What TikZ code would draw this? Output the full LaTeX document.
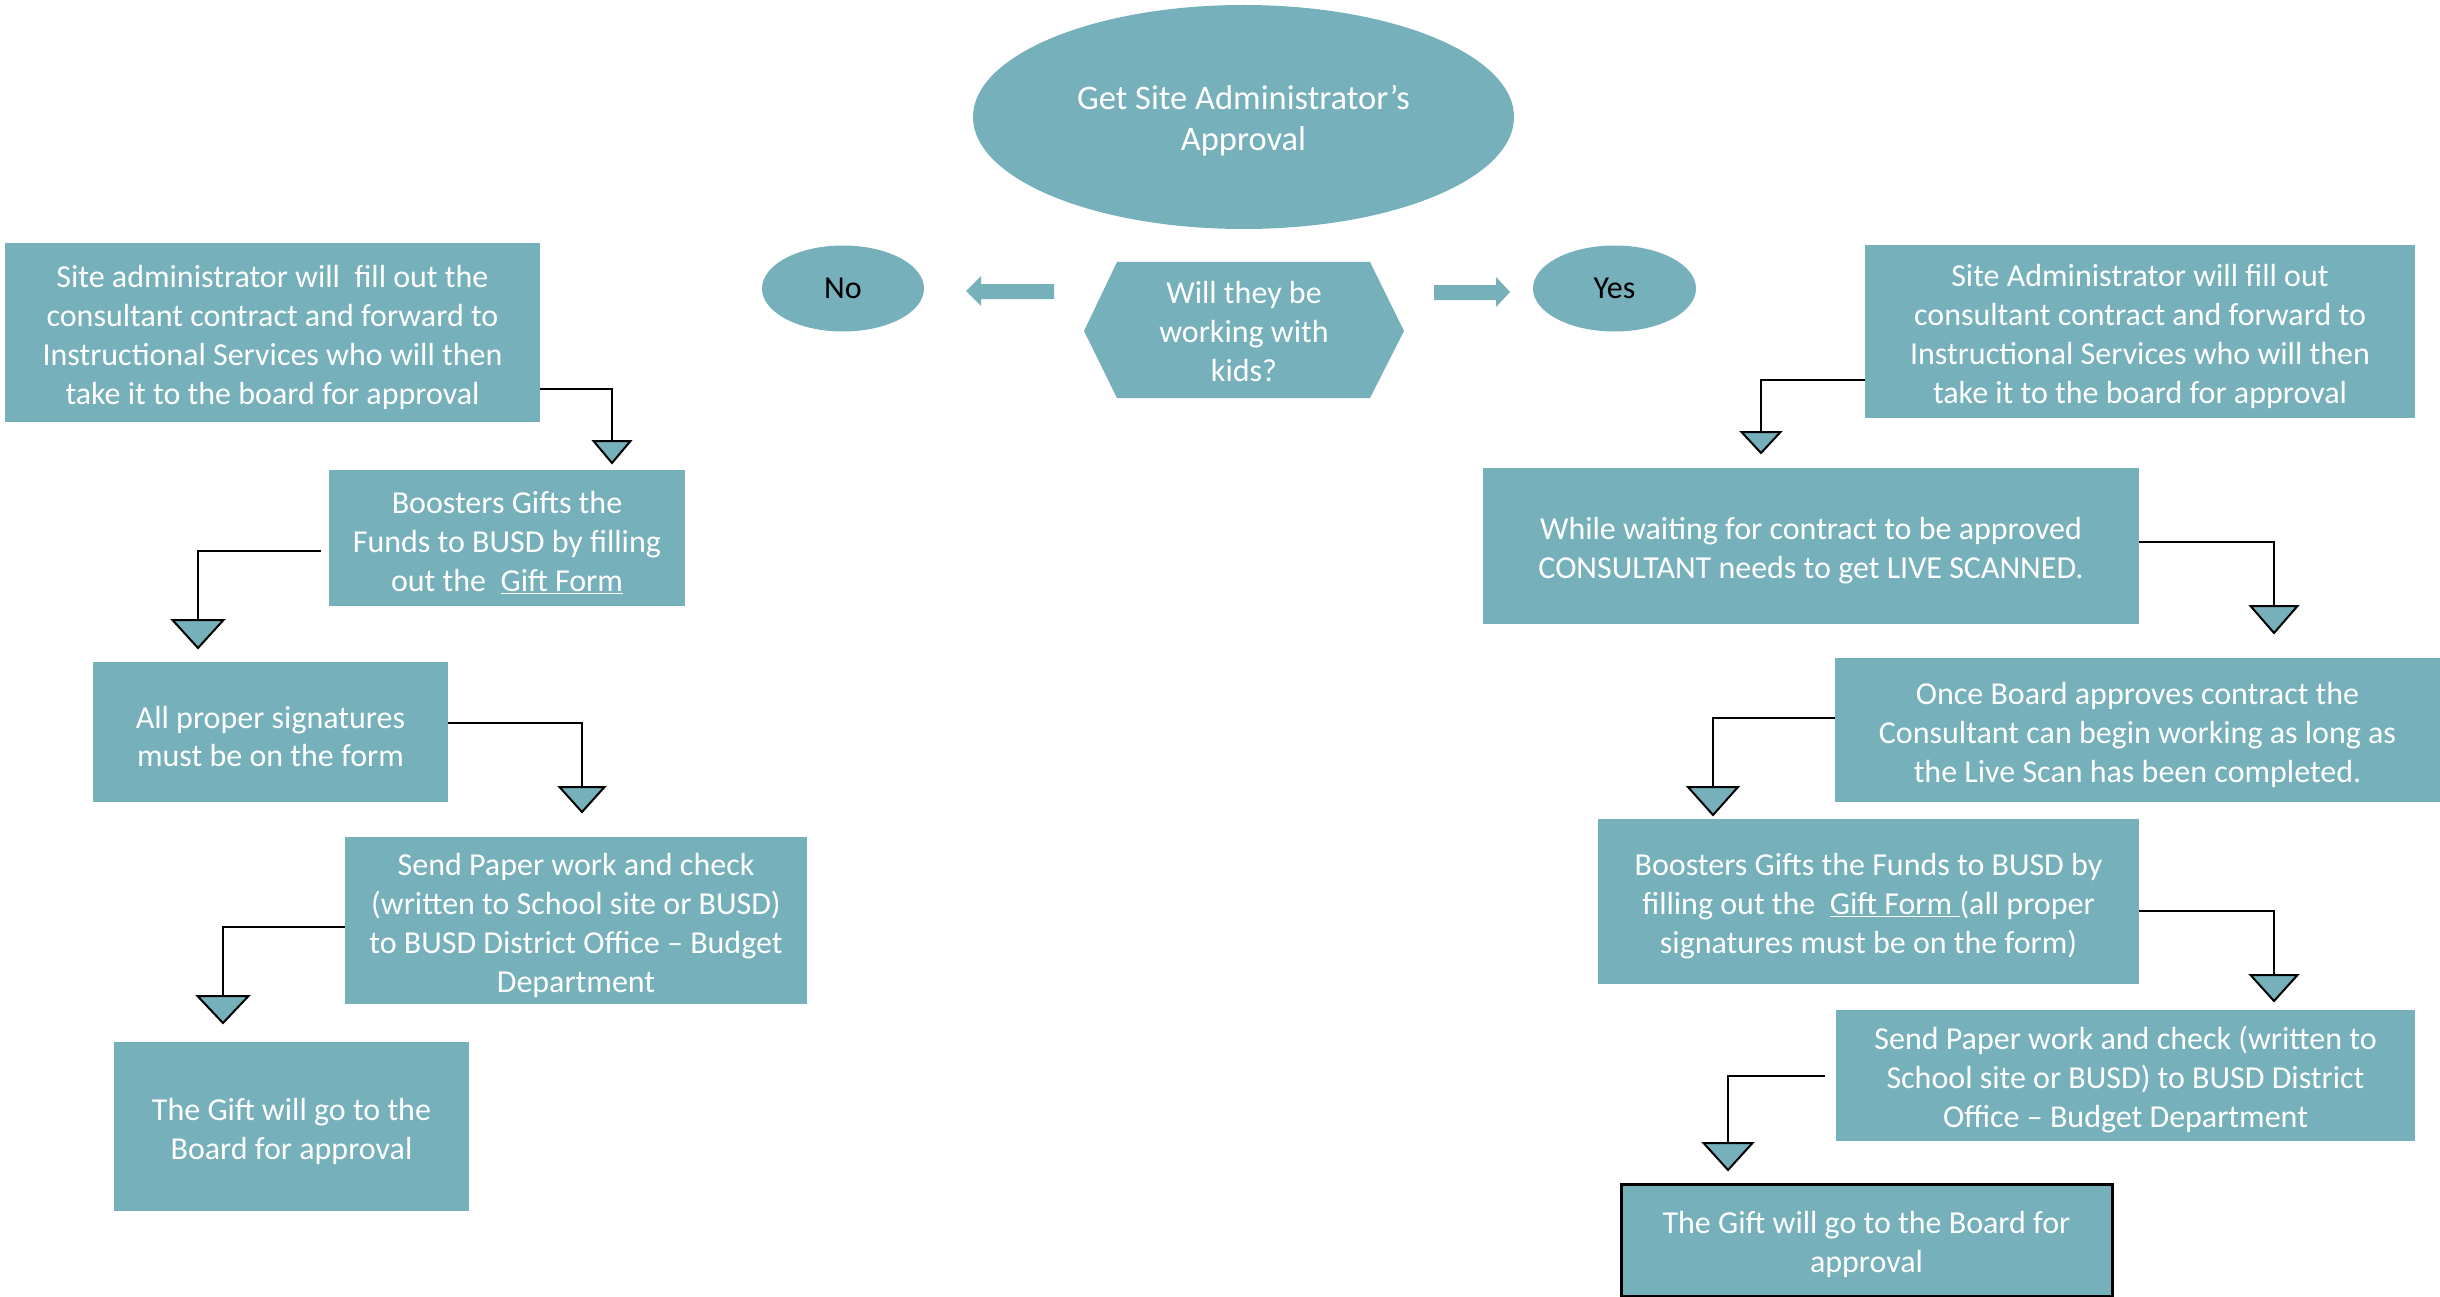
\documentclass[tikz,border=0pt]{standalone}
\usepackage{fontspec}
\setmainfont{Carlito}
\usetikzlibrary{shapes.geometric}
\definecolor{tealbox}{RGB}{117,176,187}
% downward pointing triangle marker: name, x, top y, width, height
\newcommand\downtri[5]{%
  \coordinate (#1) at (#2,#3);
  \filldraw[tri] (#2-#4/2,#3) -- (#2+#4/2,#3) -- (#2,#3+#5) -- cycle;}
\begin{document}
\begin{tikzpicture}[x=1pt,y=-1pt,
  every node/.style={inner sep=0pt, align=center, font=\fontsize{32}{39}\selectfont},
  box/.style={rectangle, fill=tealbox, label={[text=white, yshift=-4.5pt]center:{#1}}},
  oval/.style={ellipse, fill=tealbox},
  conn/.style={draw=black, line width=2.6pt},
  tri/.style={fill=tealbox, draw=black, line width=2pt, line join=miter},
  blockarrow/.style={fill=tealbox}]
\useasboundingbox (0,0) rectangle (2440,1297);

% top of the chart
\node[oval, minimum width=541pt, minimum height=224pt,
  label={[text=white, yshift=-3.5pt, font=\fontsize{34.5}{41}\selectfont]center:{Get Site Administrator’s\\Approval}}]
  (approval) at (1243.5,117) {};
\fill[tealbox] (1084,331) -- (1117,262) -- (1370,262) -- (1404,331) -- (1370,398) -- (1117,398) -- cycle;
\node[text=white] (question) at (1244,331.5) {Will they be\\working with\\kids?};
\node[oval, minimum width=162pt, minimum height=86pt] (no) at (843,288.5) {No};
\node[oval, minimum width=163pt, minimum height=86pt] (yes) at (1614.5,288.5) {Yes};
% block arrows to the answers
\fill[blockarrow] (1054,284) -- (981,284) -- (981,276) -- (966,291) -- (981,306) -- (981,299) -- (1054,299) -- cycle;
\fill[blockarrow] (1434,285) -- (1496,285) -- (1496,277) -- (1510,292) -- (1496,307) -- (1496,300) -- (1434,300) -- cycle;

% "No" branch
\node[box={Site administrator will~ fill out the\\consultant contract and forward to\\Instructional Services who will then\\take it to the board for approval},
  minimum width=535pt, minimum height=179pt] (L1) at (272.5,332.5) {};
\node[box={Boosters Gifts the\\Funds to BUSD by filling\\out the~ \underline{Gift Form}},
  minimum width=356pt, minimum height=136pt] (L2) at (507,538) {};
\node[box={All proper signatures\\must be on the form},
  minimum width=355pt, minimum height=140pt] (L3) at (270.5,732) {};
\node[box={Send Paper work and check\\(written to School site or BUSD)\\to BUSD District Office – Budget\\Department},
  minimum width=462pt, minimum height=167pt] (L4) at (576,920.5) {};
\node[box={The Gift will go to the\\Board for approval},
  minimum width=355pt, minimum height=169pt] (L5) at (291.5,1126.5) {};

% "Yes" branch
\node[box={Site Administrator will fill out\\consultant contract and forward to\\Instructional Services who will then\\take it to the board for approval},
  minimum width=550pt, minimum height=173pt] (R1) at (2140,331.5) {};
\node[box={While waiting for contract to be approved\\CONSULTANT needs to get LIVE SCANNED.},
  minimum width=656pt, minimum height=156pt] (R2) at (1811,546) {};
\node[box={Once Board approves contract the\\Consultant can begin working as long as\\the Live Scan has been completed.},
  minimum width=605pt, minimum height=144pt] (R3) at (2137.5,730) {};
\node[box={Boosters Gifts the Funds to BUSD by\\filling out the~ \underline{Gift Form\ }(all proper\\signatures must be on the form)},
  minimum width=541pt, minimum height=165pt] (R4) at (1868.5,901.5) {};
\node[box={Send Paper work and check (written to\\School site or BUSD) to BUSD District\\Office – Budget Department},
  minimum width=579pt, minimum height=131pt] (R5) at (2125.5,1075.5) {};
\node[box={The Gift will go to the Board for\\approval}, draw=black, line width=3pt,
  minimum width=491pt, minimum height=112pt] (R6) at (1866.5,1240) {};

% elbow connector heights
\coordinate (h1) at (0,389);
\coordinate (h2) at (0,551);
\coordinate (h3) at (0,723);
\coordinate (h4) at (0,927);
\coordinate (h5) at (0,380);
\coordinate (h6) at (0,542);
\coordinate (h7) at (0,718);
\coordinate (h8) at (0,911);
\coordinate (h9) at (0,1076);

% triangle tops
\coordinate (t1) at (612,441);
\coordinate (t2) at (198,620);
\coordinate (t3) at (582,787);
\coordinate (t4) at (223,996);
\coordinate (t5) at (1761,432);
\coordinate (t6) at (2274,606);
\coordinate (t7) at (1713,787);
\coordinate (t8) at (2274,975);
\coordinate (t9) at (1728,1143);

\draw[conn] (L1.east |- h1) -| (t1);
\draw[conn, shorten <=8pt] (L2.west |- h2) -| (t2);
\draw[conn] (L3.east |- h3) -| (t3);
\draw[conn] (L4.west |- h4) -| (t4);
\draw[conn] (R1.west |- h5) -| (t5);
\draw[conn] (R2.east |- h6) -| (t6);
\draw[conn] (R3.west |- h7) -| (t7);
\draw[conn] (R4.east |- h8) -| (t8);
\draw[conn, shorten <=11pt] (R5.west |- h9) -| (t9);

\downtri{m1}{612}{441}{37}{22}
\downtri{m2}{198}{620}{51}{28}
\downtri{m3}{582}{787}{45}{25}
\downtri{m4}{223}{996}{51}{27}
\downtri{m5}{1761}{432}{39}{21}
\downtri{m6}{2274}{606}{47}{27}
\downtri{m7}{1713}{787}{50}{28}
\downtri{m8}{2274}{975}{47}{26}
\downtri{m9}{1728}{1143}{49}{27}
\end{tikzpicture}
\end{document}
